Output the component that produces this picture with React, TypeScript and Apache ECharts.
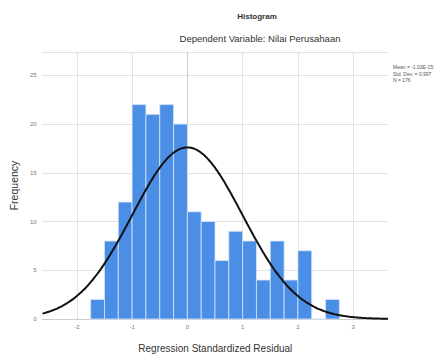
import React, { useEffect, useRef } from "react";
import * as echarts from "echarts";

// Histogram bins (lower edge) and frequencies
const binStarts = [-1.75, -1.5, -1.25, -1.0, -0.75, -0.5, -0.25, 0.0, 0.25, 0.5, 0.75, 1.0, 1.25, 1.5, 1.75, 2.0, 2.25, 2.5];
const frequencies = [2, 8, 12, 22, 21, 22, 20, 11, 10, 6, 9, 8, 4, 8, 4, 7, 0, 2];
const binWidth = 0.25;

// Summary statistics shown in the legend (parameters of the normal curve)
const meanValue = 0;
const stdDev = 0.997;
const nCount = 176;
const legendLines = ["Mean = -1.03E-15", "Std. Dev. = 0.997", "N = 176"];

const xTicks = [-2, -1, 0, 1, 2, 3];
const yTicks = [0, 5, 10, 15, 20, 25];
const xMin = -2.62;
const xMax = 3.63;
const yMax = 27.4;

const FONT = "Liberation Sans, Arial, sans-serif";

function normalCurve(): number[][] {
  const pts: number[][] = [];
  const steps = 200;
  for (let i = 0; i <= steps; i++) {
    const x = xMin + ((xMax - xMin) * i) / steps;
    const z = (x - meanValue) / stdDev;
    const y = (nCount * binWidth * Math.exp(-0.5 * z * z)) / (stdDev * Math.sqrt(2 * Math.PI));
    pts.push([x, y]);
  }
  return pts;
}

export default function App() {
  const ref = useRef<HTMLDivElement>(null);
  useEffect(() => {
    if (!ref.current) return;
    const chart = echarts.init(ref.current, undefined, { renderer: "svg" });
    const barData = binStarts.map((s, i) => [s, s + binWidth, frequencies[i]]);
    chart.setOption({
      animation: false,
      backgroundColor: "#ffffff",
      grid: { left: 42, right: 52, top: 52, bottom: 36, containLabel: false },
      graphic: [
        {
          type: "text",
          x: 257,
          y: 16,
          style: {
            text: "Histogram",
            fontFamily: FONT,
            fontSize: 8,
            fontWeight: "bold",
            fill: "#333",
            align: "center",
            verticalAlign: "middle",
          },
        },
        {
          type: "text",
          x: 260,
          y: 38,
          style: {
            text: "Dependent Variable: Nilai Perusahaan",
            fontFamily: FONT,
            fontSize: 9.5,
            fill: "#333",
            align: "center",
            verticalAlign: "middle",
          },
        },
        ...legendLines.map((t, i) => ({
          type: "text",
          x: 393,
          y: 67 + i * 6.5,
          style: { text: t, fontFamily: FONT, fontSize: 5, fill: "#555", verticalAlign: "middle" },
        })),
      ],
      xAxis: {
        type: "value",
        min: xMin,
        max: xMax,
        name: "Regression Standardized Residual",
        nameLocation: "middle",
        nameGap: 24,
        nameTextStyle: { fontFamily: FONT, fontSize: 10, color: "#333" },
        axisLine: { show: true, onZero: false, lineStyle: { color: "#ccc", width: 1 } },
        axisTick: { show: false, customValues: xTicks },
        axisLabel: { customValues: xTicks, fontFamily: FONT, fontSize: 6, color: "#777", margin: 5 },
        splitLine: { show: true, lineStyle: { color: "#e2e2e2", width: 1 } },
      },
      yAxis: {
        type: "value",
        min: 0,
        max: yMax,
        interval: 5,
        name: "Frequency",
        nameLocation: "middle",
        nameGap: 11,
        nameRotate: 90,
        nameTextStyle: { fontFamily: FONT, fontSize: 10.5, color: "#333" },
        axisLine: { show: true, lineStyle: { color: "#ccc", width: 1 } },
        axisTick: { show: false },
        axisLabel: {
          fontFamily: FONT,
          fontSize: 6,
          color: "#777",
          margin: 6,
          formatter: (v: number) => (yTicks.indexOf(v) >= 0 ? String(v) : ""),
        },
        splitLine: { show: true, lineStyle: { color: "#e2e2e2", width: 1 } },
      },
      series: [
        {
          type: "custom",
          data: barData,
          encode: { x: [0, 1], y: 2 },
          renderItem: (params: any, api: any) => {
            const p0 = api.coord([api.value(0), api.value(2)]);
            const p1 = api.coord([api.value(1), 0]);
            return {
              type: "rect",
              shape: { x: p0[0], y: p0[1], width: p1[0] - p0[0], height: p1[1] - p0[1] },
              style: { fill: "#4a8ee6", stroke: "#d6e6fa", lineWidth: 0.8 },
            };
          },
          z: 2,
        },
        {
          type: "line",
          data: normalCurve(),
          showSymbol: false,
          smooth: true,
          lineStyle: { color: "#111", width: 2 },
          z: 3,
        },
      ],
    });
    return () => chart.dispose();
  }, []);
  return (
    <div
      ref={ref}
      style={{ position: "absolute", left: 0, top: 0, width: 440, height: 358 }}
    />
  );
}
